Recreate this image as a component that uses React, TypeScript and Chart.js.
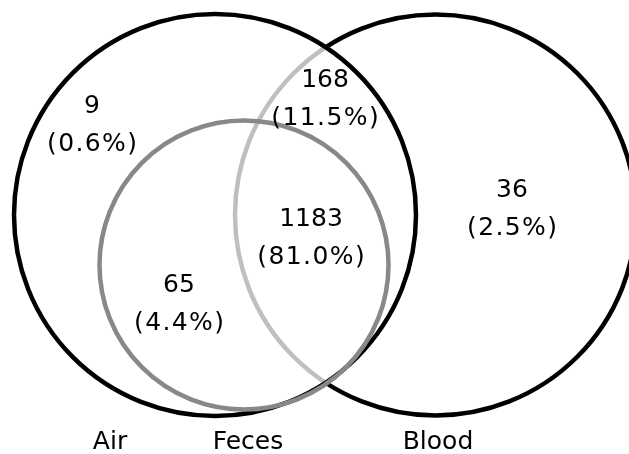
import React, { useEffect, useRef } from "react";
import { Chart, registerables } from "chart.js";

Chart.register(...registerables);

// Sets, listed in drawing order
const setNames = ["Blood", "Air", "Feces"];
const setCenterX = [435.5, 215, 244];
const setCenterY = [215, 215, 265];
const setRadius = [200.5, 201, 144.5];
const setStroke = ["#000000", "#000000", "#888888"];
const setFill = ["rgba(255,255,255,0)", "rgba(255,255,255,0.75)", "rgba(255,255,255,0)"];
const setNameX = [438, 110, 248];
const setNameY = [449, 449, 449];

// Regions
const regionCounts = [9, 168, 36, 1183, 65];
const regionPercents = ["0.6%", "11.5%", "2.5%", "81.0%", "4.4%"];
const regionX = [92, 325, 512, 311, 179];
const regionY = [113, 87, 197, 226, 292];

const FONT = '25px "DejaVu Sans", Verdana, sans-serif';

const vennPlugin = {
  id: "venn",
  afterDatasetsDraw(chart: any) {
    const { ctx, scales } = chart;
    const xs = scales.x;
    const ys = scales.y;
    ctx.save();
    for (let i = 0; i < setNames.length; i++) {
      const px = xs.getPixelForValue(setCenterX[i]);
      const py = ys.getPixelForValue(setCenterY[i]);
      const pr = Math.abs(xs.getPixelForValue(setCenterX[i] + setRadius[i]) - px);
      ctx.beginPath();
      ctx.arc(px, py, pr, 0, Math.PI * 2);
      ctx.fillStyle = setFill[i];
      ctx.fill();
      ctx.lineWidth = 4.5;
      ctx.strokeStyle = setStroke[i];
      ctx.stroke();
    }
    ctx.fillStyle = "#000000";
    ctx.font = FONT;
    ctx.textAlign = "center";
    ctx.textBaseline = "alphabetic";
    const meta = chart.getDatasetMeta(0);
    meta.data.forEach((pt: any, i: number) => {
      (ctx as any).letterSpacing = "0px";
      ctx.fillText(String(regionCounts[i]), pt.x, pt.y);
      (ctx as any).letterSpacing = "1.4px";
      ctx.fillText("(" + regionPercents[i] + ")", pt.x + 0.7, pt.y + 38);
    });
    (ctx as any).letterSpacing = "0px";
    for (let i = 0; i < setNames.length; i++) {
      ctx.fillText(setNames[i], xs.getPixelForValue(setNameX[i]), ys.getPixelForValue(setNameY[i]));
    }
    ctx.restore();
  },
};

export default function App() {
  const ref = useRef<HTMLCanvasElement | null>(null);
  useEffect(() => {
    document.body.style.margin = "0";
    if (!ref.current) return;
    const chart = new Chart(ref.current, {
      type: "scatter",
      data: {
        datasets: [
          {
            label: "regions",
            data: regionX.map((x, i) => ({ x, y: regionY[i] })),
            pointRadius: 0,
            pointHoverRadius: 0,
          },
        ],
      },
      options: {
        animation: false,
        responsive: true,
        maintainAspectRatio: false,
        layout: { padding: 0 },
        plugins: { legend: { display: false }, tooltip: { enabled: false } },
        events: [],
        scales: {
          x: { type: "linear", min: 0, max: 629, display: false },
          y: { type: "linear", min: 0, max: 454, reverse: true, display: false },
        },
      },
      plugins: [vennPlugin],
    });
    return () => chart.destroy();
  }, []);
  return (
    <div style={{ position: "relative", width: 629, height: 454, background: "#ffffff" }}>
      <canvas ref={ref} />
    </div>
  );
}
